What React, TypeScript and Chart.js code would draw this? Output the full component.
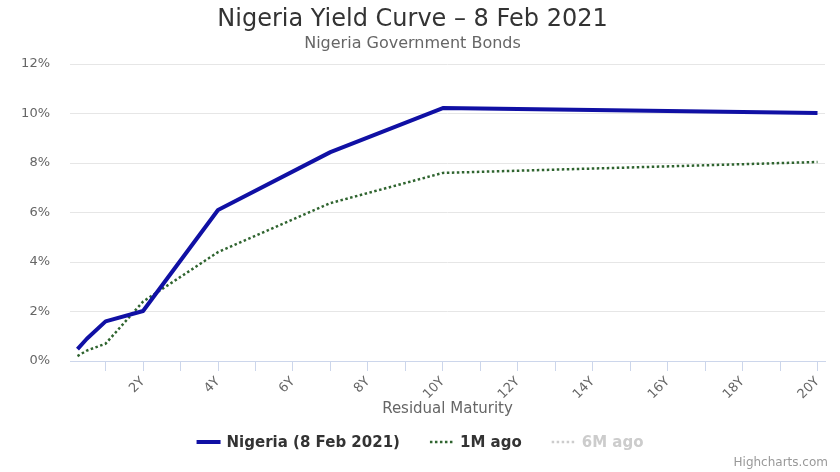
import React, { useEffect, useRef } from 'react';
import { Chart, registerables } from 'chart.js';

Chart.register(...registerables);

// residual maturity in years
const maturities = [0.25, 0.5, 1, 2, 4, 7, 10, 20];
const nigeriaYields = [0.48, 0.9, 1.6, 2.02, 6.1, 8.44, 10.22, 10.02];
const oneMonthAgoYields = [0.2, 0.42, 0.7, 2.4, 4.4, 6.38, 7.6, 8.04];
const sixMonthsAgoYields: number[] = [];

const seriesNames = ['Nigeria (8 Feb 2021)', '1M ago', '6M ago'];
const xTickValues = [1, 2, 3, 4, 5, 6, 7, 8, 9, 10, 11, 12, 13, 14, 15, 16, 17, 18, 19, 20];

const FONT = '"DejaVu Sans", "Noto Sans", sans-serif';

const toPoints = (ys: number[]) => ys.map((y, i) => ({ x: maturities[i], y }));

// Highcharts-like legend and credits, drawn below the chart
const legendPlugin = {
  id: 'hcLegend',
  afterDraw(chart: any) {
    const ctx: CanvasRenderingContext2D = chart.ctx;
    ctx.save();
    ctx.font = `bold 15px ${FONT}`;
    ctx.textBaseline = 'middle';
    const symW = 24;
    const textGap = 6;
    const itemGap = 30;
    const items = chart.data.datasets.map((ds: any) => ({
      text: ds.label,
      color: ds.hidden ? '#cccccc' : ds.borderColor,
      textColor: ds.hidden ? '#cccccc' : '#333333',
      dash: ds.borderDash || [],
      width: ds.borderWidth,
      w: ctx.measureText(ds.label).width,
    }));
    const total = items.reduce((s: number, it: any) => s + symW + textGap + it.w, 0) + itemGap * (items.length - 1);
    let x = (chart.width - total) / 2;
    const y = 442;
    items.forEach((it: any) => {
      ctx.beginPath();
      ctx.setLineDash(it.dash);
      ctx.lineWidth = it.width;
      ctx.strokeStyle = it.color;
      ctx.moveTo(x, y);
      ctx.lineTo(x + symW, y);
      ctx.stroke();
      ctx.setLineDash([]);
      ctx.fillStyle = it.textColor;
      ctx.textAlign = 'left';
      ctx.fillText(it.text, x + symW + textGap, y + 1);
      x += symW + textGap + it.w + itemGap;
    });
    ctx.font = `12px ${FONT}`;
    ctx.fillStyle = '#999999';
    ctx.textAlign = 'right';
    ctx.fillText('Highcharts.com', chart.width - 12, 463);
    ctx.restore();
  },
};

const YieldCurveChart: React.FC = () => {
  const canvasRef = useRef<HTMLCanvasElement>(null);
  const chartRef = useRef<Chart | null>(null);

  useEffect(() => {
    if (!canvasRef.current) return;
    if (chartRef.current) chartRef.current.destroy();

    chartRef.current = new Chart(canvasRef.current, {
      type: 'line',
      data: {
        datasets: [
          {
            label: seriesNames[0],
            data: toPoints(nigeriaYields),
            borderColor: '#1010a4',
            borderWidth: 4,
            pointRadius: 0,
            tension: 0,
            borderJoinStyle: 'round',
          },
          {
            label: seriesNames[1],
            data: toPoints(oneMonthAgoYields),
            borderColor: '#2f642f',
            borderWidth: 2.5,
            borderDash: [2.5, 2.5],
            pointRadius: 0,
            tension: 0,
          },
          {
            label: seriesNames[2],
            data: toPoints(sixMonthsAgoYields),
            borderColor: '#cccccc',
            borderWidth: 2.5,
            borderDash: [2.5, 2.5],
            pointRadius: 0,
            hidden: true,
          },
        ],
      },
      options: {
        responsive: true,
        maintainAspectRatio: false,
        animation: false,
        layout: { padding: { left: 0, right: 15, top: 0, bottom: 54 } },
        plugins: {
          legend: { display: false },
          tooltip: { enabled: false },
          title: {
            display: true,
            text: 'Nigeria Yield Curve – 8 Feb 2021',
            color: '#333333',
            font: { family: FONT, size: 24, weight: 'normal' },
            padding: { top: 5, bottom: 0 },
          },
          subtitle: {
            display: true,
            text: 'Nigeria Government Bonds',
            color: '#666666',
            font: { family: FONT, size: 16 },
            padding: { top: 0, bottom: 11 },
          },
        },
        scales: {
          x: {
            type: 'linear',
            min: 0.05,
            max: 20.2,
            afterBuildTicks: (scale: any) => {
              scale.ticks = xTickValues.map((v) => ({ value: v }));
            },
            afterFit: (scale: any) => {
              scale.height = 57;
            },
            ticks: {
              autoSkip: false,
              minRotation: 45,
              maxRotation: 45,
              padding: 3,
              color: '#666666',
              font: { family: FONT, size: 13 },
              callback: (v: any) => (Number(v) % 2 === 0 ? `${v}Y` : ''),
            },
            grid: {
              drawOnChartArea: false,
              drawTicks: true,
              tickLength: 10,
              color: '#ccd6eb',
            },
            border: { display: true, color: '#ccd6eb' },
            title: {
              display: true,
              text: 'Residual Maturity',
              color: '#666666',
              font: { family: FONT, size: 15 },
              padding: { top: 4, bottom: 0 },
            },
          },
          y: {
            min: 0,
            max: 12,
            afterFit: (scale: any) => {
              scale.width = 70;
            },
            ticks: {
              stepSize: 2,
              padding: 20,
              color: '#666666',
              font: { family: FONT, size: 13 },
              callback: (v: any) => `${v}%`,
            },
            grid: { color: '#e6e6e6', drawTicks: false },
            border: { display: false },
          },
        },
      },
      plugins: [legendPlugin],
    });

    return () => {
      if (chartRef.current) {
        chartRef.current.destroy();
        chartRef.current = null;
      }
    };
  }, []);

  return (
    <div style={{ position: 'absolute', left: 0, top: 0, width: 840, height: 472, background: '#ffffff' }}>
      <canvas ref={canvasRef}></canvas>
    </div>
  );
};

export default function App() {
  return <YieldCurveChart />;
}
